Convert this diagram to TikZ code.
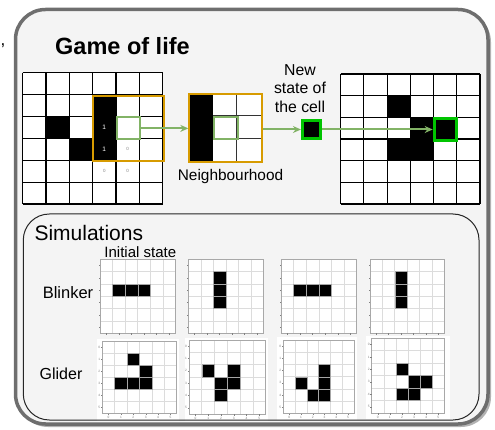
\documentclass[tikz,border=0pt]{standalone}
\usepackage{fontspec}
\setmainfont{Liberation Sans}
\usetikzlibrary{arrows.meta}

\definecolor{frameGray}{HTML}{6E6E6E}
\definecolor{panelBg}{HTML}{F4F4F4}
\definecolor{winOrange}{HTML}{D79B00}
\definecolor{selGreen}{HTML}{82B366}
\definecolor{liveGreen}{HTML}{00C400}
\definecolor{gridGray}{HTML}{DCDCDC}
\definecolor{plotEdge}{HTML}{A8A8A8}

\tikzset{
  flow/.style={draw=selGreen, line width=2pt, -{Stealth[length=8pt,width=7pt]}},
  boardline/.style={draw=black, line width=1.1pt},
  livecell/.style={fill=black, draw=gray!70, line width=0.5pt},
  thingrid/.style={draw=gridGray, line width=0.6pt},
  plotframe/.style={draw=plotEdge, line width=0.8pt},
  ticklab/.style={font=\fontsize{3.2}{3.2}\selectfont, text=gray, inner sep=0pt},
  caption/.style={inner sep=0pt, align=center},
}

% 6x6 board: x0, y0, cell width, cell height
\newcommand\lifeboard[4]{%
  \foreach \k in {0,...,6}{
    \draw[boardline] ({#1+\k*#3},#2) -- ({#1+\k*#3},{#2+6*#4});
    \draw[boardline] (#1,{#2+\k*#4}) -- ({#1+6*#3},{#2+\k*#4});
  }}
% live cells of a board: x0, y0, cell width, cell height, list row/col
\newcommand\lifefill[5]{%
  \foreach \row/\col in {#5}
    \fill[black] ({#1+\col*#3},{#2+\row*#4}) rectangle ++(#3,#4);}
% simulation frame: x0, y0, x1, y1, list row/col
\newcommand\simframe[5]{%
  \fill[white] (#1,#2) rectangle (#3,#4);
  \foreach \k in {1,...,5}{
    \draw[thingrid] ({#1+\k*(#3-#1)/6},#2) -- ({#1+\k*(#3-#1)/6},#4);
    \draw[thingrid] (#1,{#2+\k*(#4-#2)/6}) -- (#3,{#2+\k*(#4-#2)/6});
  }
  \foreach \row/\col in {#5}
    \filldraw[livecell] ({#1+\col*(#3-#1)/6},{#2+\row*(#4-#2)/6})
      rectangle ({#1+(\col+1)*(#3-#1)/6},{#2+(\row+1)*(#4-#2)/6});
  \draw[plotframe] (#1,#2) rectangle (#3,#4);
  \foreach \k in {0,...,5}{
    \draw[gray, line width=0.4pt] ({#1+(\k+0.5)*(#3-#1)/6},#4) -- ++(0,1.5);
    \draw[gray, line width=0.4pt] (#1,{#2+(\k+0.5)*(#4-#2)/6}) -- ++(-1.5,0);
  }}
% axis numbers of a simulation frame: name, x0, y0, x1, y1
\newcommand\simaxes[5]{%
  \foreach \k in {0,...,5}{
    \node[ticklab] (#1-y\k) at ({#2-3},{#3+(\k+0.5)*(#5-#3)/6}) {\k};
    \node[ticklab] (#1-x\k) at ({#2+(\k+0.5)*(#4-#2)/6},{#5+4}) {\k};
  }}

\begin{document}
\begin{tikzpicture}[x=1pt, y=-1pt]
\useasboundingbox (0,0) rectangle (495,430);

% outer panel with its shadow
\fill[black!30, rounded corners=30pt] (18,12) rectangle (491,427);
\filldraw[draw=frameGray, fill=panelBg, line width=3.5pt, rounded corners=30pt]
  (15.5,9.5) rectangle (488,424);

\node[inner sep=0pt, font=\fontsize{17}{17}\selectfont] (comma) at (3,46) {,};

\node[anchor=west, inner sep=0pt, font=\fontsize{23.5}{28}\selectfont\bfseries]
  (title) at (55,46) {Game of life};

% ---- current generation ----
\fill[white] (22.7,72.7) rectangle ++(140,131.3);
\lifefill{22.7}{72.7}{23.33}{21.88}{2/1,3/2,1/3,2/3,3/3}
\lifeboard{22.7}{72.7}{23.33}{21.88}
\node[text=white, font=\fontsize{6.5}{7}\selectfont, inner sep=0pt] (cnt1) at (104.3,127.4) {1};
\node[text=white, font=\fontsize{6.5}{7}\selectfont, inner sep=0pt] (cnt2) at (104.3,149.3) {1};
\node[text=gray, font=\fontsize{4.5}{5}\selectfont, inner sep=0pt] (zero1) at (127.6,149.3) {0};
\node[text=gray, font=\fontsize{4.5}{5}\selectfont, inner sep=0pt] (zero2) at (104.3,171.2) {0};
\node[text=gray, font=\fontsize{4.5}{5}\selectfont, inner sep=0pt] (zero3) at (127.6,171.2) {0};
\node[draw=winOrange, line width=2pt, minimum width=70.4pt, minimum height=65.8pt,
      inner sep=0pt, anchor=north west] (window) at (92.3,94.6) {};
\node[draw=selGreen, line width=2pt, minimum width=23pt, minimum height=21.8pt,
      inner sep=0pt, anchor=north west] (lsel) at (116.0,116.5) {};

% ---- neighbourhood ----
\fill[white] (188.3,93.3) rectangle (260.7,161);
\fill[black] (188.3,93.3) rectangle (212.5,161);
\draw[black!80, line width=1pt] (236.6,93.3) -- (236.6,161)
  (212.5,116) -- (260.7,116) (212.5,138.5) -- (260.7,138.5);
\node[draw=selGreen, line width=2pt, minimum width=24pt, minimum height=22.5pt,
      inner sep=0pt, anchor=north west] (nsel) at (212.5,116) {};
\node[draw=winOrange, line width=2pt, minimum width=72.4pt, minimum height=67.7pt,
      inner sep=0pt, anchor=north west] (nbhd) at (188.3,93.3) {};
\node[caption, font=\fontsize{15.4}{18}\selectfont] (nbhdlab) at (230.5,176.5) {Neighbourhood};

% ---- new state ----
\node[caption, font=\fontsize{15.8}{18.5}\selectfont] (newlab) at (300,88.5)
  {New\\state of\\the cell};
\node[draw=liveGreen, fill=black, line width=3pt, minimum size=18.5pt, inner sep=0pt]
  (newcell) at (311.7,129.5) {};

% ---- next generation ----
\fill[white] (340.7,74) rectangle ++(139.3,130);
\lifefill{340.7}{74}{23.22}{21.67}{1/2,2/3,2/4,3/2,3/3}
\lifeboard{340.7}{74}{23.22}{21.67}
\node[draw=liveGreen, line width=3pt, minimum width=22pt, minimum height=22.5pt,
      inner sep=0pt] (rsel) at (445.2,129.5) {};

% ---- flow of the update ----
\draw[flow] (lsel.east) -- (lsel.east -| nbhd.west);
\draw[flow] (nbhd.east |- newcell.west) -- (newcell.west);
\draw[flow] (newcell.east) -- (newcell.east -| rsel.west);

% ---- simulations panel ----
\node[anchor=west, inner sep=0pt, font=\fontsize{21}{24}\selectfont] (simlab) at (34.3,233)
  {Simulations};
\node[caption, font=\fontsize{15}{17}\selectfont] (initlab) at (140.3,252) {Initial state};
\node[caption, font=\fontsize{16.5}{19}\selectfont] (blinklab) at (68,293) {Blinker};
\node[caption, font=\fontsize{16}{19}\selectfont] (glidlab) at (61,374) {Glider};

% blinker, period 2
\simframe{100}{259.3}{175.5}{333.3}{2/1,2/2,2/3}
\simframe{188.3}{259.3}{263.3}{333.3}{1/2,2/2,3/2}
\simframe{281}{259.3}{356.7}{333.3}{2/1,2/2,2/3}
\simframe{370}{259.3}{444.3}{333.3}{1/2,2/2,3/2}

% glider, four phases
\fill[white] (97,338.5) rectangle (179,421);
\fill[white] (184.5,337.5) rectangle (268,421);
\fill[white] (277,337) rectangle (357,420);
\fill[white] (366,336) rectangle (449.5,419);
\simframe{102.3}{341}{176.7}{413.5}{1/2,2/3,3/1,3/2,3/3}
\simaxes{g1}{102.3}{341}{176.7}{413.5}
\simframe{189}{340}{265.7}{414}{2/1,2/3,3/2,3/3,4/2}
\simaxes{g2}{189}{340}{265.7}{414}
\simframe{283.3}{340}{354}{413.5}{2/3,3/1,3/3,4/2,4/3}
\simaxes{g3}{283.3}{340}{354}{413.5}
\simframe{371.7}{338.3}{444.3}{413}{2/2,3/3,3/4,4/2,4/3}
\simaxes{g4}{371.7}{338.3}{444.3}{413}

% panel outline over the plot backgrounds
\draw[black!85, line width=1pt, rounded corners=26pt] (23.3,214) rectangle (479,420);
\end{tikzpicture}
\end{document}
